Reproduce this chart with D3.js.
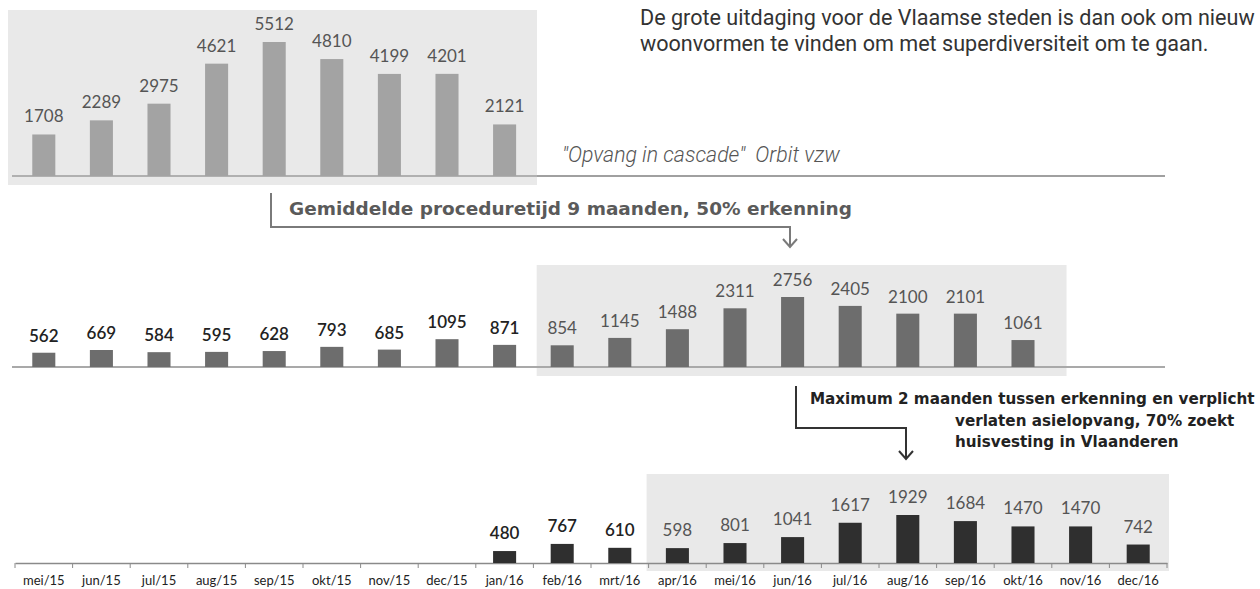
<!DOCTYPE html>
<html>
<head>
<meta charset="utf-8">
<script src="https://cdn.jsdelivr.net/npm/d3@7"></script>
<style>
  body { margin: 0; background: #fff; }
  svg { display: block; }
</style>
</head>
<body>
<div id="chart"></div>
<script>
// months on the shared x axis
const months = ["mei/15", "jun/15", "jul/15", "aug/15", "sep/15", "okt/15", "nov/15", "dec/15",
  "jan/16", "feb/16", "mrt/16", "apr/16", "mei/16", "jun/16", "jul/16", "aug/16",
  "sep/16", "okt/16", "nov/16", "dec/16"];

// row 1: asylum applications, mei/15 - jan/16
const aanvragenStart = 0;
const aanvragen = [1708, 2289, 2975, 4621, 5512, 4810, 4199, 4201, 2121];

// row 2: decisions, mei/15 - okt/16 (highlighted from feb/16)
const beslissingenStart = 0;
const beslissingen = [562, 669, 584, 595, 628, 793, 685, 1095, 871,
  854, 1145, 1488, 2311, 2756, 2405, 2100, 2101, 1061];
const beslissingenHighlight = ["feb/16", "okt/16"];

// row 3: recognitions, jan/16 - dec/16 (highlighted from apr/16)
const erkenningenStart = 8;
const erkenningen = [480, 767, 610, 598, 801, 1041, 1617, 1929, 1684, 1470, 1470, 742];
const erkenningenHighlight = ["apr/16", "dec/16"];

const W = 1260, H = 589;
const svg = d3.select("#chart").append("svg")
  .attr("width", W)
  .attr("height", H);

const x = d3.scaleBand()
  .domain(months)
  .range([15, 1167])
  .paddingInner(0.6)
  .paddingOuter(0.3);

const gap = (x.step() - x.bandwidth()) / 2;
const NUM_FONT = "Lato, 'Open Sans', sans-serif";

function toRows(values, start) {
  return values.map((v, i) => ({ month: months[start + i], value: v, idx: start + i }));
}

// scale a text's font size so it spans roughly the width seen in the picture
function fitWidth(sel, width) {
  const fs = parseFloat(sel.attr("font-size"));
  const w = sel.node().getComputedTextLength();
  const nfs = fs * width / w;
  sel.attr("font-size", nfs + "px");
  return nfs;
}

// ---------- Row 1 ----------
const row1 = { base: 176, max: 5512, maxY: 42 };
const y1 = d3.scaleLinear().domain([0, row1.max]).range([row1.base, row1.maxY]);
const rows1 = toRows(aanvragen, aanvragenStart);

svg.append("rect")
  .attr("x", 8).attr("y", 10)
  .attr("width", 529).attr("height", 175)
  .attr("fill", "#e9e9e9");

svg.append("line")
  .attr("x1", 12).attr("x2", 537)
  .attr("y1", row1.base).attr("y2", row1.base)
  .attr("stroke", "#b0b0b0").attr("stroke-width", 2);
svg.append("line")
  .attr("x1", 537).attr("x2", 1165)
  .attr("y1", row1.base).attr("y2", row1.base)
  .attr("stroke", "#a0a0a0").attr("stroke-width", 2);

svg.append("g").selectAll("rect")
  .data(rows1).enter().append("rect")
  .attr("x", d => x(d.month))
  .attr("y", d => y1(d.value))
  .attr("width", x.bandwidth())
  .attr("height", d => row1.base - y1(d.value))
  .attr("fill", "#a3a3a3");

svg.append("g").selectAll("text")
  .data(rows1).enter().append("text")
  .attr("x", d => x(d.month) + x.bandwidth() / 2)
  .attr("y", d => y1(d.value) - 12)
  .attr("text-anchor", "middle")
  .attr("font-family", NUM_FONT)
  .attr("font-size", "17px")
  .attr("fill", "#555")
  .text(d => d.value);

// paragraph top right
const para1 = svg.append("text")
  .attr("x", 640).attr("y", 25)
  .attr("font-family", "Roboto, sans-serif")
  .attr("font-size", "16px")
  .attr("fill", "#333")
  .text("De grote uitdaging voor de Vlaamse steden is dan ook om nieuw");
const paraSize = fitWidth(para1, 615);
svg.append("text")
  .attr("x", 640).attr("y", 51)
  .attr("font-family", "Roboto, sans-serif")
  .attr("font-size", paraSize + "px")
  .attr("fill", "#333")
  .text("woonvormen te vinden om met superdiversiteit om te gaan.");

const bron = svg.append("text")
  .attr("x", 562).attr("y", 162)
  .attr("font-family", "Roboto, sans-serif")
  .attr("font-size", "16px")
  .attr("font-style", "italic")
  .attr("font-weight", 300)
  .attr("fill", "#555")
  .attr("xml:space", "preserve")
  .text("\"Opvang in cascade\"  Orbit vzw");
fitWidth(bron, 278);

// ---------- connector 1 ----------
svg.append("path")
  .attr("d", "M271,193 V227 H790 V246")
  .attr("fill", "none")
  .attr("stroke", "#7a7a7a").attr("stroke-width", 2);
svg.append("path")
  .attr("d", "M783,239 L790,247 L797,239")
  .attr("fill", "none")
  .attr("stroke", "#7a7a7a").attr("stroke-width", 2);
const note1 = svg.append("text")
  .attr("x", 289).attr("y", 215)
  .attr("font-family", "'DejaVu Sans', sans-serif")
  .attr("font-size", "17px")
  .attr("font-weight", "bold")
  .attr("fill", "#5a5a5a")
  .text("Gemiddelde proceduretijd 9 maanden, 50% erkenning");
fitWidth(note1, 563);

// ---------- Row 2 ----------
const row2 = { base: 367, max: 2756, maxY: 297 };
const y2 = d3.scaleLinear().domain([0, row2.max]).range([row2.base, row2.maxY]);
const rows2 = toRows(beslissingen, beslissingenStart);
const hl2 = beslissingenHighlight.map(m => months.indexOf(m));

const box2x = x(beslissingenHighlight[0]) - 14;
svg.append("rect")
  .attr("x", box2x)
  .attr("y", 265)
  .attr("width", x(beslissingenHighlight[1]) + x.bandwidth() + 32 - box2x)
  .attr("height", 111)
  .attr("fill", "#e9e9e9");

svg.append("line")
  .attr("x1", 12).attr("x2", 1165)
  .attr("y1", row2.base).attr("y2", row2.base)
  .attr("stroke", "#a9a9a9").attr("stroke-width", 2);

svg.append("g").selectAll("rect")
  .data(rows2).enter().append("rect")
  .attr("x", d => x(d.month))
  .attr("y", d => y2(d.value))
  .attr("width", x.bandwidth())
  .attr("height", d => row2.base - y2(d.value))
  .attr("fill", "#6d6d6d");

svg.append("g").selectAll("text")
  .data(rows2).enter().append("text")
  .attr("x", d => x(d.month) + x.bandwidth() / 2)
  .attr("y", d => y2(d.value) - 11)
  .attr("text-anchor", "middle")
  .attr("font-family", NUM_FONT)
  .attr("font-size", "17px")
  .attr("font-weight", d => d.idx < hl2[0] ? 600 : 400)
  .attr("fill", d => d.idx < hl2[0] ? "#222" : "#555")
  .text(d => d.value);

// ---------- connector 2 ----------
svg.append("path")
  .attr("d", "M796,386 V428 H906 V458")
  .attr("fill", "none")
  .attr("stroke", "#333").attr("stroke-width", 2);
svg.append("path")
  .attr("d", "M899,451 L906,459 L913,451")
  .attr("fill", "none")
  .attr("stroke", "#333").attr("stroke-width", 2);

const note2 = [
  { text: "Maximum 2 maanden tussen erkenning en verplicht", x: 810, y: 404 },
  { text: "verlaten asielopvang, 70% zoekt", x: 955, y: 426 },
  { text: "huisvesting in Vlaanderen", x: 955, y: 447 }
];
const note2Text = svg.append("g").selectAll("text")
  .data(note2).enter().append("text")
  .attr("x", d => d.x).attr("y", d => d.y)
  .attr("font-family", "'DejaVu Sans', sans-serif")
  .attr("font-size", "14px")
  .attr("font-weight", "bold")
  .attr("fill", "#222")
  .text(d => d.text);
const note2Size = fitWidth(d3.select(note2Text.nodes()[0]), 445);
note2Text.attr("font-size", note2Size + "px");

// ---------- Row 3 ----------
const row3 = { base: 563, max: 1929, maxY: 515 };
const y3 = d3.scaleLinear().domain([0, row3.max]).range([row3.base, row3.maxY]);
const rows3 = toRows(erkenningen, erkenningenStart);
const hl3 = erkenningenHighlight.map(m => months.indexOf(m));

const box3x = x(erkenningenHighlight[0]) - gap - 2;
svg.append("rect")
  .attr("x", box3x)
  .attr("y", 474)
  .attr("width", x(erkenningenHighlight[1]) + x.bandwidth() + gap + 2 - box3x)
  .attr("height", 97)
  .attr("fill", "#e9e9e9");

const axis = svg.append("g")
  .attr("transform", `translate(0, ${row3.base})`)
  .call(d3.axisBottom(x).tickSize(0).tickPadding(13));
axis.select(".domain").attr("stroke", "#8a8a8a").attr("stroke-width", 1.5);
axis.selectAll(".tick text")
  .attr("font-family", "Lato, sans-serif")
  .attr("font-size", "13px")
  .attr("fill", "#222");

// tick marks between categories
const edges = months.map(m => x(m) - gap).concat([x(months[months.length - 1]) + x.bandwidth() + gap]);
axis.selectAll(".edge")
  .data(edges).enter().append("line")
  .attr("class", "edge")
  .attr("x1", d => d).attr("x2", d => d)
  .attr("y1", 0).attr("y2", 5)
  .attr("stroke", "#8a8a8a");

svg.append("g").selectAll("rect")
  .data(rows3).enter().append("rect")
  .attr("x", d => x(d.month))
  .attr("y", d => y3(d.value))
  .attr("width", x.bandwidth())
  .attr("height", d => row3.base - y3(d.value))
  .attr("fill", "#2f2f2f");

svg.append("g").selectAll("text")
  .data(rows3).enter().append("text")
  .attr("x", d => x(d.month) + x.bandwidth() / 2)
  .attr("y", d => y3(d.value) - 12)
  .attr("text-anchor", "middle")
  .attr("font-family", NUM_FONT)
  .attr("font-size", "17px")
  .attr("font-weight", d => d.idx < hl3[0] ? 600 : 400)
  .attr("fill", d => d.idx < hl3[0] ? "#222" : "#555")
  .text(d => d.value);
</script>
</body>
</html>
